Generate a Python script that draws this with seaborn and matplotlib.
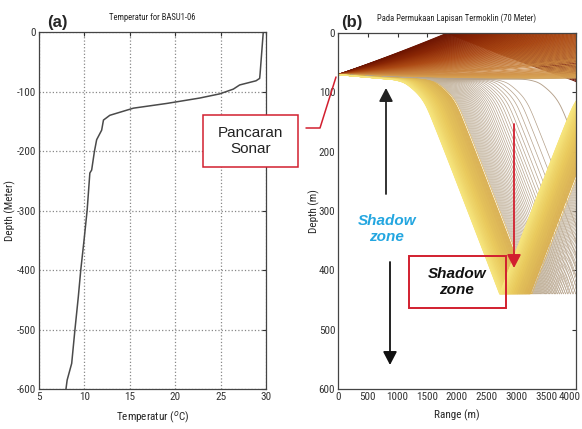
import numpy as np
import pandas as pd
import matplotlib
matplotlib.use("Agg")
import matplotlib.pyplot as plt
import seaborn as sns
from matplotlib import font_manager
from matplotlib.collections import LineCollection
from matplotlib.colors import LinearSegmentedColormap
from matplotlib.patches import Rectangle, FancyArrowPatch
from matplotlib.lines import Line2D
from matplotlib.transforms import ScaledTranslation

# ---------------- data ----------------
profile_depth = [0, 10, 40, 70, 78, 82, 89, 96, 104, 111, 120, 128, 140, 148,
                 165, 181, 201, 232, 237, 300, 350, 400, 445, 500, 557, 585, 600]
profile_temp = [29.7, 29.65, 29.5, 29.35, 29.3, 28.9, 27.1, 26.4, 24.9, 22.7, 19.1,
                15.4, 12.8, 12.1, 11.9, 11.35, 11.1, 10.8, 10.6, 10.3, 9.96, 9.6,
                9.33, 8.96, 8.6, 8.1, 7.97]
temp_ticks = [5, 10, 15, 20, 25, 30]
depth_ticks_a = [0, -100, -200, -300, -400, -500, -600]
range_ticks = [0, 500, 1000, 1500, 2000, 2500, 3000, 3500, 4000]
depth_ticks_b = [0, 100, 200, 300, 400, 500, 600]

source_depth = 70.0      # m
bottom_depth = 440.0     # m
salinity = 34.5
max_range = 4000.0
# launch angles in degrees (+ = downward)
angles_up = np.linspace(-2.0, -0.02, 80)
angles_duct = np.linspace(0.0, 0.30, 25)
angles_fan = np.linspace(0.306, 0.40, 36)
angles_beam = np.linspace(0.405, 0.57, 95)
launch_angles = np.concatenate([angles_up, angles_duct, angles_fan, angles_beam])

# ---------------- ray tracing from the profile ----------------
zg = np.arange(0, 600.25, 0.25)
Tg = np.interp(zg, profile_depth, profile_temp)
cg = (1449.2 + 4.6 * Tg - 0.055 * Tg**2 + 0.00029 * Tg**3
      + (1.34 - 0.01 * Tg) * (salinity - 35) + 0.016 * zg)
gg = np.gradient(cg, zg)

th = np.deg2rad(launch_angles)
z = np.full(th.size, source_depth)
r = np.zeros(th.size)
ds = 0.5
Z = [z.copy()]
R = [r.copy()]
for i in range(12000):
    c = np.interp(z, zg, cg)
    g = np.interp(z, zg, gg)
    th = th - np.cos(th) / c * g * ds
    z = z + np.sin(th) * ds
    r = r + np.cos(th) * ds
    top = z < 0
    z[top] = -z[top]
    th[top] = -th[top]
    bot = z > bottom_depth
    z[bot] = 2 * bottom_depth - z[bot]
    th[bot] = -th[bot]
    if i % 4 == 3:
        Z.append(z.copy())
        R.append(r.copy())
    if r.min() > max_range + 20:
        break
Z = np.array(Z)
R = np.array(R)

# ---------------- figure ----------------
sns.set_style("white")
fam = ['Liberation Sans', 'DejaVu Sans']
for cand in ['Liberation Sans Narrow', 'DejaVu Sans Condensed', 'Roboto Condensed',
             'Open Sans Condensed']:
    try:
        font_manager.findfont(cand, fallback_to_default=False)
        fam = [cand, 'Liberation Sans', 'DejaVu Sans']
        break
    except Exception:
        pass
narrow = fam[0] != 'Liberation Sans'
plt.rcParams['font.family'] = fam
plt.rcParams['axes.unicode_minus'] = False
small = 8 if narrow else 7
title_fs = 6.2 if narrow else 5.5

W, H = 582, 429
fig = plt.figure(figsize=(W / 100, H / 100), dpi=100)
fig.patch.set_facecolor('white')


def fx(x):
    return x / W


def fy(y):
    return 1 - y / H


axa = fig.add_axes([fx(39), fy(389), fx(266) - fx(39), fy(32) - fy(389)])
axb = fig.add_axes([fx(338), fy(389), fx(576) - fx(338), fy(33) - fy(389)])

# panel (a)
dfa = pd.DataFrame({'Temperatur': profile_temp,
                    'Depth': [-d for d in profile_depth]})
sns.lineplot(data=dfa, x='Temperatur', y='Depth', sort=False, estimator=None,
             color='#4a4a4a', lw=1.1, ax=axa)
axa.set_xlim(5, 30)
axa.set_ylim(-600, 0)
axa.set_xticks(temp_ticks)
axa.set_yticks(depth_ticks_a)
axa.grid(True, ls=':', color='#888888', lw=0.9)
axa.set_xlabel('Temperatur ($^{o}$C)', fontsize=small)
axa.set_ylabel('Depth (Meter)', fontsize=small)
axa.set_title('Temperatur for BASU1-06', fontsize=title_fs, pad=9)

# panel (b)
amin, amax = launch_angles.min(), launch_angles.max()
anchor_angles = [-2.0, -1.3, -0.6, 0.0, 0.28, 0.306, 0.40, 0.405, 0.49, 0.57]
anchor_colors = ['#6a1200', '#8a2604', '#ad4a14', '#c8803c', '#d8a454',
                 '#b4a08a', '#c2b29a', '#d8ae52', '#eacb5e', '#f6e47c']
cmap = LinearSegmentedColormap.from_list(
    'rays', list(zip([(a - amin) / (amax - amin) for a in anchor_angles], anchor_colors)))
cols = cmap((launch_angles - amin) / (amax - amin))
segs = [np.column_stack([R[:, i], Z[:, i]]) for i in range(th.size)]
widths = np.where((launch_angles >= 0.305) & (launch_angles <= 0.401), 0.5, 0.65)
lc = LineCollection(segs, colors=cols, linewidths=widths)
axb.add_collection(lc)
axb.set_xlim(0, 4000)
axb.set_ylim(600, 0)
axb.set_xticks(range_ticks)
axb.set_yticks(depth_ticks_b)
axb.set_xlabel('Range (m)', fontsize=small)
axb.set_ylabel('Depth (m)', fontsize=small)
axb.set_title('Pada Permukaan Lapisan Termoklin (70 Meter)', fontsize=title_fs, pad=9)

for ax in (axa, axb):
    ax.tick_params(direction='in', length=3, width=0.8, top=True, right=True,
                   labelsize=small, colors='#333333', pad=2)
    for s in ax.spines.values():
        s.set_color('#444444')
        s.set_linewidth(0.9)
    ax.set_facecolor('white')

last = axb.get_xticklabels()[-1]
last.set_transform(last.get_transform() + ScaledTranslation(-6 / 100, 0, fig.dpi_scale_trans))

axa.xaxis.set_label_coords(0.5, -0.057)
axb.xaxis.set_label_coords(0.5, -0.057)
axa.yaxis.set_label_coords(-0.10, 0.5)
axb.yaxis.set_label_coords(-0.075, 0.5)

fig.text(fx(57), fy(22), '(a)', fontsize=12, fontweight='bold',
         family=['Liberation Sans', 'DejaVu Sans'], ha='center', va='center')
fig.text(fx(352), fy(22), '(b)', fontsize=12, fontweight='bold',
         family=['Liberation Sans', 'DejaVu Sans'], ha='center', va='center')

red = '#d21f2f'
fig.add_artist(Rectangle((fx(203), fy(167)), fx(298) - fx(203), fy(115) - fy(167),
                         transform=fig.transFigure, fill=True, facecolor='white',
                         edgecolor=red, lw=1.1))
fig.text(fx(250.5), fy(141), 'Pancaran\nSonar', fontsize=11, ha='center', va='center',
         family=['Liberation Sans', 'DejaVu Sans'], color='#222222', linespacing=1.15)
fig.add_artist(Line2D([fx(306), fx(320), fx(336)], [fy(128), fy(128), fy(77)],
                      transform=fig.transFigure, color=red, lw=1.1))


def arrow(x0, y0, x1, y1, color):
    fig.add_artist(FancyArrowPatch((fx(x0), fy(y0)), (fx(x1), fy(y1)),
                                   transform=fig.transFigure, color=color,
                                   arrowstyle='-|>,head_length=5,head_width=2.6',
                                   lw=1.3, shrinkA=0, shrinkB=0,
                                   mutation_scale=1.6))


arrow(386, 194, 386, 88, '#222222')
arrow(390, 262, 390, 365, '#111111')
arrow(514, 124, 514, 268, red)

fig.text(fx(387), fy(229), 'Shadow\nzone', fontsize=11, fontweight='bold', style='italic',
         color='#23a6e0', ha='center', va='center', linespacing=1.25,
         family=['Liberation Sans', 'DejaVu Sans'])
fig.add_artist(Rectangle((fx(409), fy(308)), fx(506) - fx(409), fy(256) - fy(308),
                         transform=fig.transFigure, fill=False, edgecolor=red, lw=1.4))
fig.text(fx(457), fy(282), 'Shadow\nzone', fontsize=11, fontweight='bold', style='italic',
         color='#111111', ha='center', va='center', linespacing=1.25,
         family=['Liberation Sans', 'DejaVu Sans'])

fig.savefig('out.png', dpi=100, facecolor='white')
